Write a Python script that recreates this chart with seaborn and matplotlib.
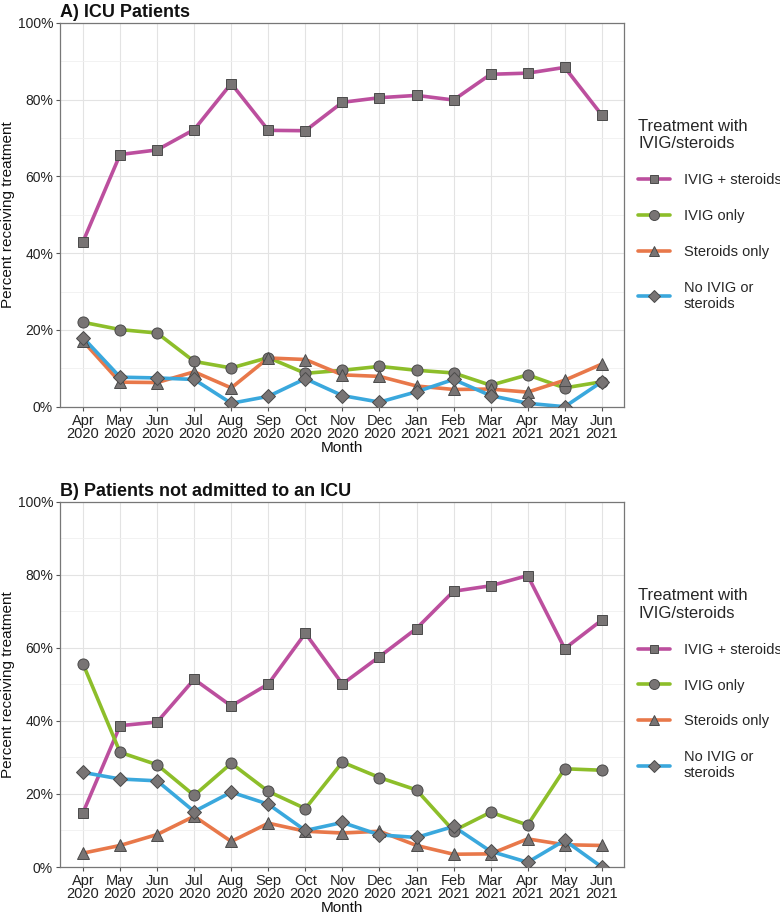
import matplotlib
matplotlib.use("Agg")
import matplotlib.pyplot as plt
from matplotlib.lines import Line2D
from matplotlib.ticker import MultipleLocator, FuncFormatter
import seaborn as sns
import pandas as pd

# --- data ---
months = ["Apr\n2020", "May\n2020", "Jun\n2020", "Jul\n2020", "Aug\n2020",
          "Sep\n2020", "Oct\n2020", "Nov\n2020", "Dec\n2020", "Jan\n2021",
          "Feb\n2021", "Mar\n2021", "Apr\n2021", "May\n2021", "Jun\n2021"]
treatments = ["IVIG + steroids", "IVIG only", "Steroids only", "No IVIG or\nsteroids"]

# A) ICU patients
icu_ivig_steroids = [43.0, 65.7, 66.9, 72.2, 84.2, 72.0, 71.9, 79.3, 80.5, 81.1, 79.9, 86.6, 86.9, 88.4, 76.0]
icu_ivig_only = [22.0, 20.1, 19.2, 11.8, 10.1, 12.8, 8.7, 9.5, 10.5, 9.5, 8.8, 5.6, 8.3, 4.9, 6.5]
icu_steroids_only = [17.1, 6.4, 6.3, 9.1, 4.9, 12.7, 12.3, 8.3, 7.9, 5.4, 4.5, 4.6, 3.8, 6.9, 11.1]
icu_neither = [18.0, 7.7, 7.5, 7.1, 0.9, 2.7, 7.3, 2.9, 1.2, 3.9, 7.1, 2.9, 0.9, 0.0, 6.5]

# B) patients not admitted to an ICU
non_ivig_steroids = [14.9, 38.7, 39.7, 51.4, 44.1, 50.1, 64.0, 50.1, 57.6, 65.3, 75.5, 77.0, 79.8, 59.8, 67.6]
non_ivig_only = [55.6, 31.4, 28.0, 19.6, 28.4, 20.7, 16.0, 28.7, 24.5, 21.1, 9.9, 15.0, 11.5, 26.9, 26.5]
non_steroids_only = [3.8, 5.9, 8.9, 13.9, 7.0, 12.0, 9.8, 9.3, 9.8, 5.9, 3.5, 3.6, 7.7, 6.1, 5.9]
non_neither = [25.9, 24.1, 23.6, 15.2, 20.5, 17.2, 10.0, 12.2, 8.8, 8.1, 11.1, 4.3, 1.3, 7.3, 0.0]

colors = ["#BC4F9E", "#8DBE2A", "#E8784A", "#3AA8DD"]
marker_shapes = ["s", "o", "^", "D"]
marker_sizes = [7, 8, 8.5, 7]


def long_df(series):
    rows = []
    for t, vals in zip(treatments, series):
        for i, v in enumerate(vals):
            rows.append({"month": i, "pct": v, "treatment": t})
    return pd.DataFrame(rows)


sns.set_theme(style="white")
plt.rcParams['font.family'] = ['Liberation Sans', 'DejaVu Sans']

fig = plt.figure(figsize=(7.8, 9.14), dpi=100)
ax_a = fig.add_axes([0.077, 0.555, 0.723, 0.420])
ax_b = fig.add_axes([0.077, 0.0514, 0.723, 0.3996])

panels = [
    (ax_a, "A) ICU Patients", [icu_ivig_steroids, icu_ivig_only, icu_steroids_only, icu_neither]),
    (ax_b, "B) Patients not admitted to an ICU", [non_ivig_steroids, non_ivig_only, non_steroids_only, non_neither]),
]

for ax, title, series in panels:
    df = long_df(series)
    sns.lineplot(data=df, x="month", y="pct", hue="treatment", hue_order=treatments,
                 palette=colors, linewidth=2.6, legend=False, ax=ax, zorder=2)
    for t, shape, ms in zip(treatments, marker_shapes, marker_sizes):
        sub = df[df["treatment"] == t]
        ax.plot(sub["month"], sub["pct"], linestyle="none", marker=shape, markersize=ms,
                markerfacecolor="#787474", markeredgecolor="#4a4a4a", markeredgewidth=0.7, zorder=3)

    ax.set_xlim(-0.62, 14.6)
    ax.set_ylim(0, 100)
    ax.set_xticks(range(len(months)))
    ax.set_xticklabels(months, fontsize=10.5, color="#222222", linespacing=0.95)
    ax.yaxis.set_major_locator(MultipleLocator(20))
    ax.yaxis.set_minor_locator(MultipleLocator(10))
    ax.yaxis.set_major_formatter(FuncFormatter(lambda v, p: f"{v:.0f}%"))
    ax.tick_params(axis="y", labelsize=10, colors="#222222")
    ax.tick_params(axis="both", which="major", length=3, width=0.8, color="#555555", direction="out",
                   bottom=True, left=True, pad=2)
    ax.tick_params(axis="y", which="minor", length=0)
    ax.grid(True, which="major", color="#e3e3e3", linewidth=0.8, zorder=0)
    ax.grid(True, which="minor", axis="y", color="#f0f0f0", linewidth=0.6, zorder=0)
    ax.set_axisbelow(True)
    for s in ax.spines.values():
        s.set_color("#777777")
        s.set_linewidth(0.9)
    ax.set_xlabel("Month", fontsize=11, labelpad=0, color="#111111")
    ax.set_ylabel("Percent receiving treatment", fontsize=11, labelpad=2, color="#111111")
    ax.set_title(title, loc="left", fontsize=13, fontweight="bold", pad=4, color="#111111")

    handles = [Line2D([0], [0], color=c, linewidth=2.6, marker=m, markersize=ms * 0.9,
                      markerfacecolor="#787474", markeredgecolor="#4a4a4a", markeredgewidth=0.7)
               for c, m, ms in zip(colors, marker_shapes, marker_sizes)]
    leg = ax.legend(handles, treatments, title="Treatment with\nIVIG/steroids",
                    loc="center left", bbox_to_anchor=(1.01, 0.5), frameon=False,
                    fontsize=10.5, title_fontsize=12, labelspacing=1.5, handlelength=2.2,
                    handletextpad=0.9, borderaxespad=0.2)
    leg._legend_box.align = "left"

fig.savefig("out.png", dpi=100)
